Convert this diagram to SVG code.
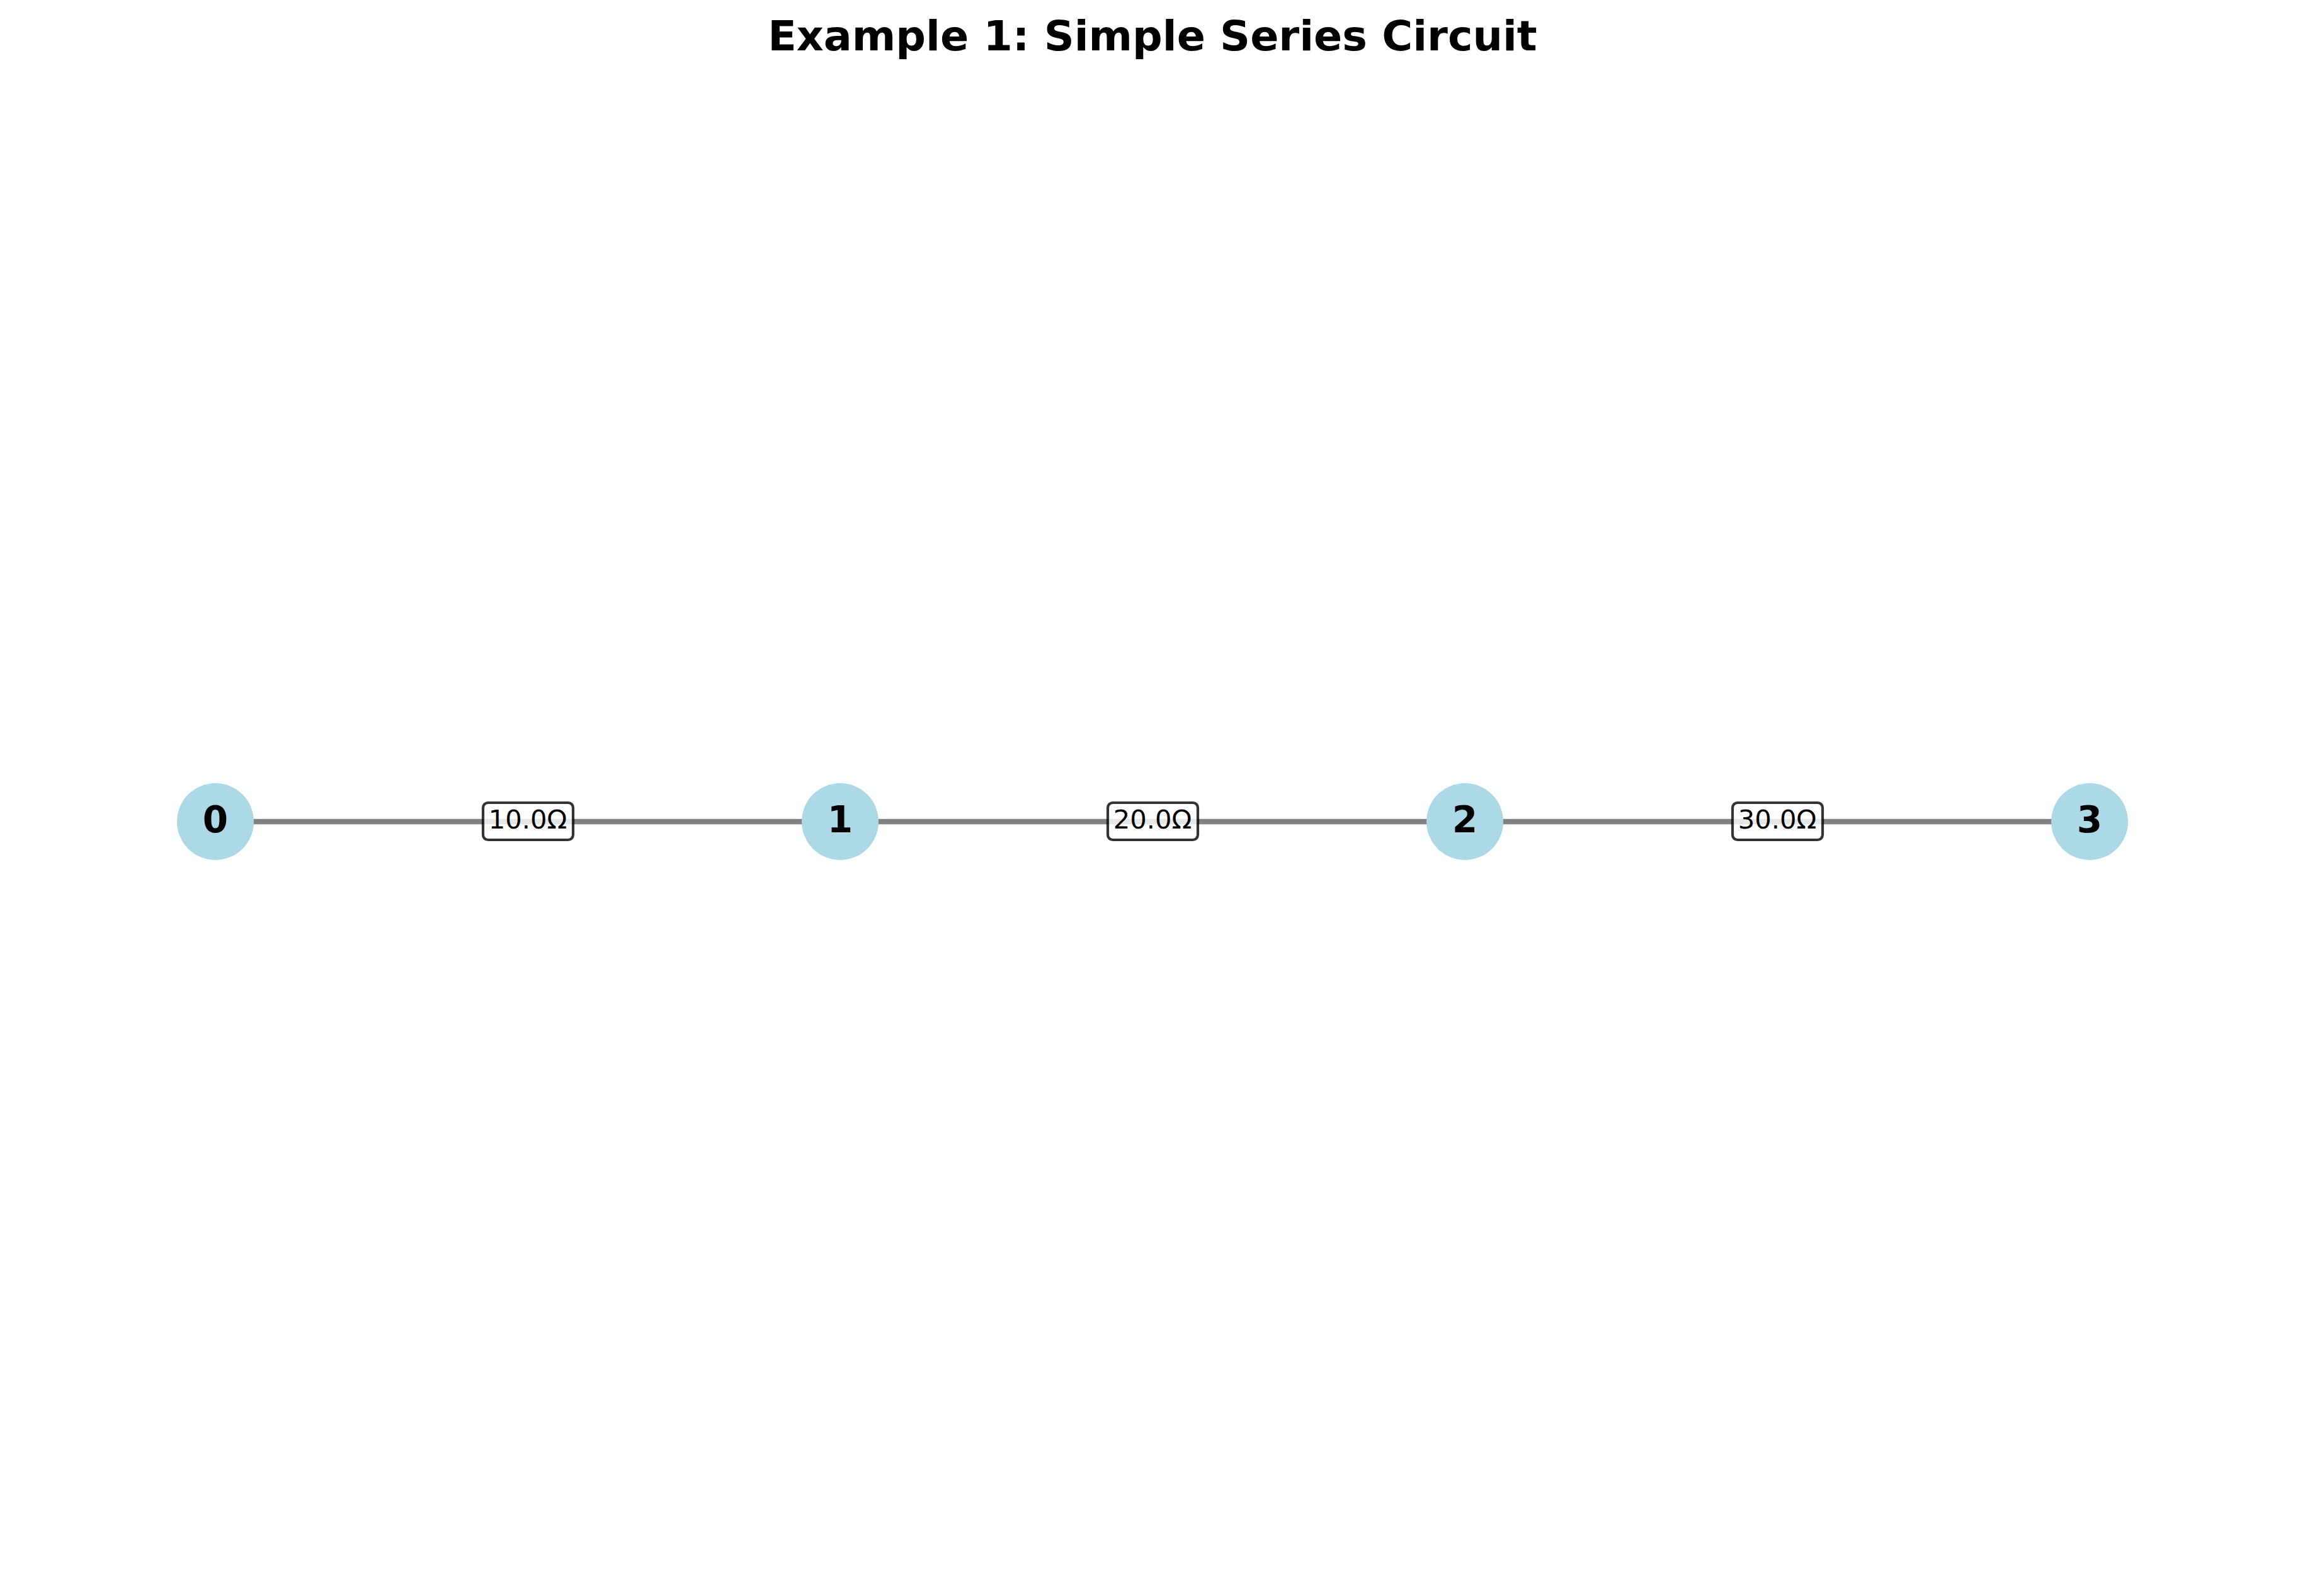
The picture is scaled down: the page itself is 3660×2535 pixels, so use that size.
<svg xmlns="http://www.w3.org/2000/svg" width="3660" height="2535" viewBox="0 0 3660 2535">
<style>
.edge{stroke:#808080;stroke-width:8.3;fill:none}
.node{fill:#add8e6}
.nl{font-family:"DejaVu Sans",sans-serif;font-weight:bold;font-size:58px;text-anchor:middle;fill:#000}
.box{fill:#fff;fill-opacity:0.8;stroke:#000;stroke-opacity:0.8;stroke-width:4.2}
.el{font-family:"DejaVu Sans",sans-serif;font-size:41.7px;text-anchor:middle;fill:#000}
.title{font-family:"DejaVu Sans",sans-serif;font-weight:bold;font-size:66.7px;text-anchor:middle;fill:#000}
</style>
<rect width="3660" height="2535" fill="#fff"/>
<text class="title" x="1830" y="80">Example 1: Simple Series Circuit</text>
<g id="connectors">
<line class="edge" x1="342" y1="1305" x2="1334" y2="1305"/>
<line class="edge" x1="1334" y1="1305" x2="2326" y2="1305"/>
<line class="edge" x1="2326" y1="1305" x2="3318" y2="1305"/>
<g id="label-0-1"><rect class="box" x="767" y="1275" width="143" height="59" rx="8"/><text class="el" x="838" y="1316">10.0Ω</text></g>
<g id="label-1-2"><rect class="box" x="1759" y="1275" width="143" height="59" rx="8"/><text class="el" x="1830" y="1316">20.0Ω</text></g>
<g id="label-2-3"><rect class="box" x="2751" y="1275" width="143" height="59" rx="8"/><text class="el" x="2822" y="1316">30.0Ω</text></g>
</g>
<g id="node-0"><circle class="node" cx="342" cy="1305" r="61"/><text class="nl" x="342" y="1322">0</text></g>
<g id="node-1"><circle class="node" cx="1334" cy="1305" r="61"/><text class="nl" x="1334" y="1322">1</text></g>
<g id="node-2"><circle class="node" cx="2326" cy="1305" r="61"/><text class="nl" x="2326" y="1322">2</text></g>
<g id="node-3"><circle class="node" cx="3318" cy="1305" r="61"/><text class="nl" x="3318" y="1322">3</text></g>
</svg>
